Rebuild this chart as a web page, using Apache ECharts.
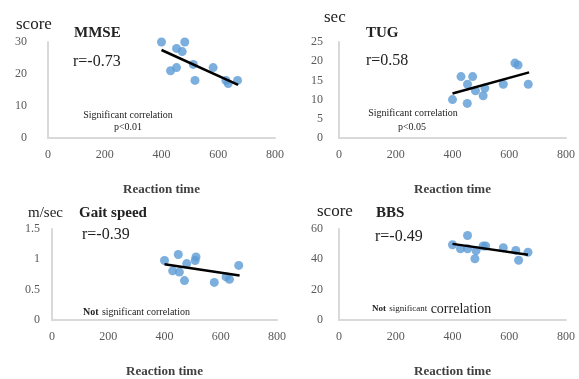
<!DOCTYPE html>
<html>
<head>
<meta charset="utf-8">
<script src="https://cdn.jsdelivr.net/npm/echarts@6/dist/echarts.min.js"></script>
<style>
  html, body {margin: 0; padding: 0; background: #fff;}
  #chart {width: 579px; height: 379px;}
</style>
</head>
<body>
<div id="chart"></div>
<script>
// data (reaction time vs outcome, 12 subjects each)
var mmseX = [400, 432, 453, 453, 473, 482, 512, 518, 582, 627, 635, 668];
var mmseY = [30, 21, 28, 22, 27, 30, 23, 18, 22, 18, 17, 18];
var mmseFit = [[400, 27.5], [670, 16.6]];

var tugX = [400, 430, 452, 453, 471, 481, 508, 514, 579, 620, 631, 667];
var tugY = [10, 16, 9, 14, 16, 12.3, 11, 13, 14, 19.5, 19, 14];
var tugFit = [[400, 11.6], [670, 17.1]];

var gaitX = [400, 429, 449, 453, 471, 479, 509, 512, 577, 619, 631, 664];
var gaitY = [0.98, 0.81, 1.08, 0.79, 0.65, 0.93, 0.98, 1.04, 0.62, 0.71, 0.67, 0.9];
var gaitFit = [[400, 0.92], [667, 0.735]];

var bbsX = [400, 428, 453, 453, 479, 483, 508, 517, 579, 623, 633, 666];
var bbsY = [49.6, 47, 55.7, 47, 40.4, 45.7, 48.8, 48.8, 47.6, 45.9, 39.4, 44.7];
var bbsFit = [[400, 50.2], [666, 43]];

var xTicks = [0, 200, 400, 600, 800];
var yMax = [30, 25, 1.5, 60];
var yStep = [10, 5, 0.5, 20];
var titles = ['MMSE', 'TUG', 'Gait speed', 'BBS'];
var rValues = ['r=-0.73', 'r=0.58', 'r=-0.39', 'r=-0.49'];
var units = ['score', 'sec', 'm/sec', 'score'];
var xName = 'Reaction time';

function pairs(xs, ys) {
  return xs.map(function (x, i) { return [x, ys[i]]; });
}

var scatterData = [pairs(mmseX, mmseY), pairs(tugX, tugY), pairs(gaitX, gaitY), pairs(bbsX, bbsY)];
var fits = [mmseFit, tugFit, gaitFit, bbsFit];

var serif = '"Liberation Serif", "DejaVu Serif", serif';
var grids = [
  {left: 48, top: 42, width: 227, height: 96},
  {left: 339, top: 42, width: 227, height: 96},
  {left: 52, top: 229, width: 225, height: 98},
  {left: 339, top: 229, width: 227, height: 98}
];
var yMargins = [21, 16, 12, 16];

var xAxes = [], yAxes = [], series = [];
grids.forEach(function (g, i) {
  xAxes.push({
    gridIndex: i, type: 'value', min: xTicks[0], max: xTicks[xTicks.length - 1],
    interval: xTicks[1] - xTicks[0],
    name: xName, nameLocation: 'middle', nameGap: 45,
    nameTextStyle: {fontFamily: serif, fontWeight: 'bold', fontSize: 13, color: '#404040'},
    axisLine: {show: true, lineStyle: {color: '#d9d9d9', width: 2}},
    axisTick: {show: false},
    splitLine: {show: false},
    axisLabel: {fontFamily: serif, fontSize: 12, color: '#595959', margin: 11}
  });
  yAxes.push({
    gridIndex: i, type: 'value', min: 0, max: yMax[i], interval: yStep[i],
    axisLine: {show: true, lineStyle: {color: '#d9d9d9', width: 2}},
    axisTick: {show: false},
    splitLine: {show: false},
    axisLabel: {fontFamily: serif, fontSize: 12, color: '#595959', margin: yMargins[i]}
  });
  series.push({
    type: 'scatter', xAxisIndex: i, yAxisIndex: i, data: scatterData[i],
    symbolSize: 9, itemStyle: {color: '#5b9bd5'}, z: 2
  });
  series.push({
    type: 'line', xAxisIndex: i, yAxisIndex: i, data: fits[i],
    symbol: 'none', lineStyle: {color: '#000', width: 2.5}, z: 3
  });
});

function txt(x, y, text, size, bold, extra) {
  var st = {text: text, fontFamily: serif, fontSize: size, fontWeight: bold ? 'bold' : 'normal',
    fill: '#222', textVerticalAlign: 'middle'};
  if (extra) { for (var k in extra) st[k] = extra[k]; }
  return {type: 'text', left: x, top: y, style: st, z: 10};
}
function t2(x, y, text, size, bold, align) {
  return {type: 'text', x: x, y: y, style: {text: text, fontFamily: serif, fontSize: size,
    fontWeight: bold ? 'bold' : 'normal', fill: '#222', align: align || 'left', verticalAlign: 'middle'}, z: 10};
}

var unitPos = [[16, 25, 17], [324, 18, 17], [28, 213, 15], [317, 212, 17]];
var titlePos = [[74, 33], [366, 33], [79, 213], [376, 213]];
var rPos = [[73, 62], [366, 61], [82, 235], [375, 237]];

var graphics = [];
for (var i = 0; i < 4; i++) {
  graphics.push(t2(unitPos[i][0], unitPos[i][1], units[i], unitPos[i][2], false));
  graphics.push(t2(titlePos[i][0], titlePos[i][1], titles[i], 15, true));
  graphics.push(t2(rPos[i][0], rPos[i][1], rValues[i], 16, false));
}
graphics.push(t2(128, 115, 'Significant correlation', 10, false, 'center'));
graphics.push(t2(128, 127, 'p<0.01', 10, false, 'center'));
graphics.push(t2(413, 113, 'Significant correlation', 10, false, 'center'));
graphics.push(t2(412, 127, 'p<0.05', 10, false, 'center'));
graphics.push({type: 'text', x: 83, y: 312, z: 10, style: {
  text: '{b|Not} {n|significant correlation}', verticalAlign: 'middle',
  rich: {b: {fontFamily: serif, fontSize: 10, fontWeight: 'bold', fill: '#222'},
         n: {fontFamily: serif, fontSize: 10, fill: '#222'}}}});
graphics.push({type: 'text', x: 372, y: 309, z: 10, style: {
  text: '{b|Not} {n|significant} {c|correlation}', verticalAlign: 'middle',
  rich: {b: {fontFamily: serif, fontSize: 9, fontWeight: 'bold', fill: '#222'},
         n: {fontFamily: serif, fontSize: 9, fill: '#222'},
         c: {fontFamily: serif, fontSize: 14, fill: '#222'}}}});

var chart = echarts.init(document.getElementById('chart'));
chart.setOption({
  animation: false,
  backgroundColor: '#fff',
  grid: grids,
  xAxis: xAxes,
  yAxis: yAxes,
  series: series,
  graphic: graphics
});
</script>
</body>
</html>
